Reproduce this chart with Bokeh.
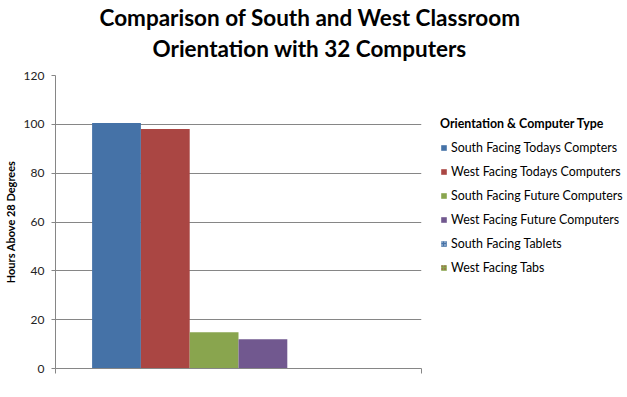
from bokeh.plotting import figure
from bokeh.layouts import column, row
from bokeh.models import Range1d, FixedTicker, Legend, LegendItem, Title
from bokeh.embed import file_html
from bokeh.resources import INLINE

title_lines = ["Comparison of South and West Classroom", "Orientation with 32 Computers"]
y_label = "Hours Above 28 Degrees"
legend_title = "Orientation & Computer Type"
series = ["South Facing Todays Compters", "West Facing Todays Computers",
          "South Facing Future Computers", "West Facing Future Computers",
          "South Facing Tablets", "West Facing Tabs"]
hours = [100.5, 98.1, 14.8, 12.0, 0, 0]
colors = ["#4572A7", "#AA4643", "#89A54E", "#71588F", "#4572A7", "#89A54E"]
hatches = [None, None, None, None, "dot", "dot"]
hatch_colors = [None, None, None, None, "#DCE6F2", "#AA4643"]
y_ticks = [0, 20, 40, 60, 80, 100, 120]

FONT = "Lato"


def blank(width, height, top=0):
    f = figure(width=width, height=height, output_backend="svg", toolbar_location=None,
               x_range=Range1d(0, 1), y_range=Range1d(0, 1),
               x_axis_location=None, y_axis_location=None,
               min_border_left=0, min_border_right=0, min_border_top=top, min_border_bottom=0)
    f.outline_line_color = None
    f.xgrid.grid_line_color = None
    f.ygrid.grid_line_color = None
    return f


# ---- title (two title panels; the lower line is added first, nearest the frame) ----
p_title = blank(627, 66, top=0)
for line, off in zip(reversed(title_lines), [152, 99]):
    p_title.add_layout(Title(text=line, align="left", offset=off, standoff=2,
                             text_font=FONT, text_font_size="22.5px", text_font_style="bold",
                             text_color="#000000"), "above")

# ---- main chart ----
p = figure(width=423, height=331, output_backend="svg", toolbar_location=None,
           x_range=Range1d(0, 1), y_range=Range1d(0, 120),
           min_border_left=53, min_border_right=2, min_border_top=9, min_border_bottom=29)
p.outline_line_color = None

group_width = 0.8
bar_w = group_width / len(series)
for i, (val, col) in enumerate(zip(hours, colors)):
    xc = 0.5 - group_width / 2 + bar_w * (i + 0.5)
    p.vbar(x=[xc], top=[val], width=bar_w, bottom=0, fill_color=col, line_color=None)

p.xaxis.ticker = FixedTicker(ticks=[0, 1])
p.xaxis.major_label_text_color = None
p.xaxis.major_label_text_font_size = "1px"
p.xaxis.major_label_standoff = 0
p.xaxis.major_tick_out = 5
p.xaxis.major_tick_in = 0
p.xaxis.minor_tick_line_color = None
p.xaxis.axis_line_color = "#868686"
p.xaxis.major_tick_line_color = "#868686"
p.xgrid.grid_line_color = None

p.yaxis.ticker = FixedTicker(ticks=y_ticks)
p.yaxis.major_tick_out = 4
p.yaxis.major_tick_in = 0
p.yaxis.minor_tick_line_color = None
p.yaxis.axis_line_color = "#868686"
p.yaxis.major_tick_line_color = "#868686"
p.yaxis.major_label_text_font = FONT
p.yaxis.major_label_text_font_size = "12px"
p.yaxis.major_label_text_color = "#222222"
p.yaxis.major_label_standoff = 7
p.yaxis.axis_label = y_label
p.yaxis.axis_label_text_font = FONT
p.yaxis.axis_label_text_font_size = "11px"
p.yaxis.axis_label_text_font_style = "bold"
p.yaxis.axis_label_text_color = "#000000"
p.yaxis.axis_label_standoff = 4
p.ygrid.grid_line_color = "#868686"
p.ygrid.grid_line_width = 1

# ---- legend panel ----
p_leg = blank(204, 331)
items = []
for i, (name, col) in enumerate(zip(series, colors)):
    kw = {}
    if hatches[i]:
        kw = dict(hatch_pattern=hatches[i], hatch_color=hatch_colors[i], hatch_scale=3, hatch_weight=1.5)
    # zero-height proxy bar (invisible) so the legend can draw its swatch
    r = p_leg.vbar(x=[0.5], top=[0], bottom=[0], width=0.1, fill_color=col, line_color=None, **kw)
    items.append(LegendItem(label=name, renderers=[r]))

legend = Legend(items=items, location=(17, 93), title=legend_title,
                title_text_font=FONT, title_text_font_size="12.4px", title_text_font_style="bold",
                title_text_color="#000000", title_standoff=9,
                label_text_font=FONT, label_text_font_size="12.4px", label_text_color="#000000",
                glyph_width=7, glyph_height=7, label_height=14, label_standoff=4, spacing=9,
                padding=0, margin=0, border_line_color=None, background_fill_alpha=0)
p_leg.add_layout(legend, "center")

layout = column(p_title, row(p, p_leg, spacing=0), spacing=0)
open("out.html", "w").write(file_html(layout, INLINE))
